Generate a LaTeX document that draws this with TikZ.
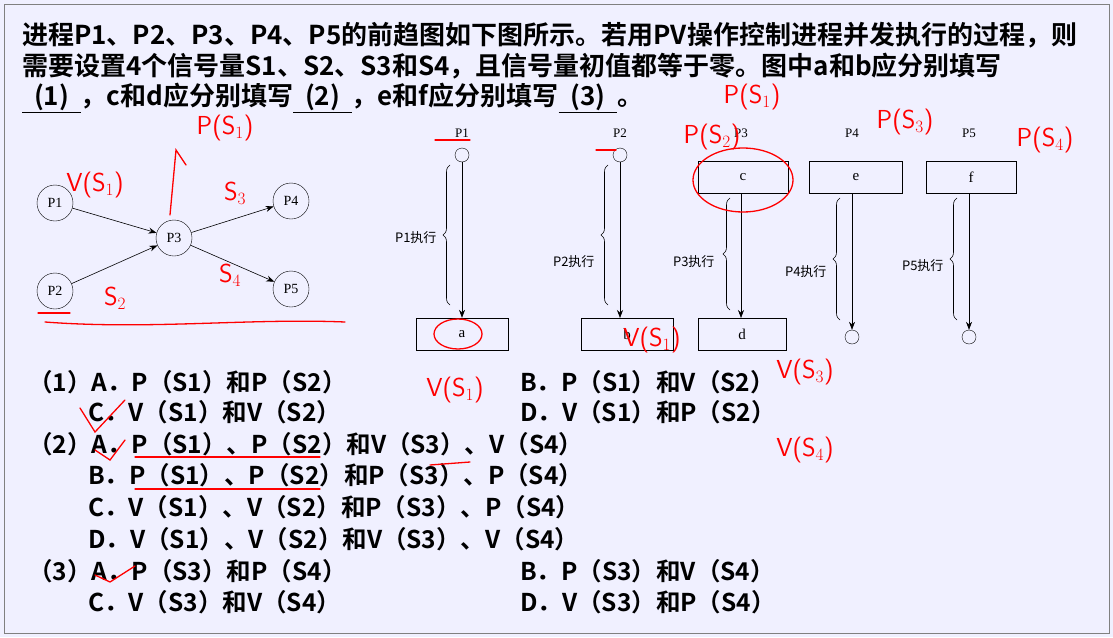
\documentclass[tikz,border=0pt]{standalone}
\usepackage{fontspec}
\setmainfont{Liberation Serif}
\newfontfamily\cjk{Noto Sans CJK SC}
\newfontfamily\cjkb{Noto Sans CJK SC Bold}
\usetikzlibrary{arrows.meta,decorations.pathreplacing}
\begin{document}
\begin{tikzpicture}[x=1pt,y=-1pt,
  proc/.style={draw,circle,minimum size=36pt,inner sep=0pt,font=\fontsize{14}{14}\selectfont},
  arr/.style={-{Stealth[length=8pt,width=6pt]},line width=0.6pt},
  bx/.style={draw,minimum width=92pt,minimum height=32pt,inner sep=0pt,font=\fontsize{15}{15}\selectfont},
  sc/.style={draw,circle,minimum size=14pt,inner sep=0pt},
  lab/.style={font=\fontsize{13}{13}\selectfont},
  exl/.style={font=\cjk\fontsize{13}{13}\selectfont},
  br/.style={decorate,decoration={brace,amplitude=7pt},line width=0.6pt},
  tx/.style={anchor=west,font=\cjkb\fontsize{24.5}{24.5}\selectfont,inner sep=0pt},
  tt/.style={anchor=west,font=\cjkb\fontsize{26}{26}\selectfont,inner sep=0pt},
  hw/.style={red,font=\sffamily\fontsize{26}{26}\selectfont,inner sep=0pt},
  hl/.style={red,line width=1.3pt,line cap=round}]
\useasboundingbox (0,0) rectangle (1113,637);
\fill[blue!6] (0,0) rectangle (1113,637);
\draw[gray,line width=1pt] (4,4) rectangle (1109,633);
% title
\node[tt] (t1) at (22,35) {进程P1、P2、P3、P4、P5的前趋图如下图所示。若用PV操作控制进程并发执行的过程，则};
\node[tt] (t2) at (22,66) {需要设置4个信号量S1、S2、S3和S4，且信号量初值都等于零。图中a和b应分别填写};
\node[tt] (t3) at (22,98) {\underline{\ \ (1)\ \ }，c和d应分别填写\underline{\ \ (2)\ \ }，e和f应分别填写\underline{\ \ (3)\ \ }。};
% graph
\node[proc] (p1) at (55,203) {P1};
\node[proc] (p2) at (55,291) {P2};
\node[proc] (p3) at (174,238) {P3};
\node[proc] (p4) at (291,201) {P4};
\node[proc] (p5) at (291,289) {P5};
\draw[arr] (p1) -- (p3);
\draw[arr] (p2) -- (p3);
\draw[arr] (p3) -- (p4);
\draw[arr] (p3) -- (p5);
% right diagram
\node[lab] (l1) at (462,133) {P1};
\node[sc] (c1) at (462,155) {};
\node[bx] (ba) at (462,334) {a};
\draw[arr] (c1) -- (ba);
\draw[br] (450,305) -- (450,165);
\node[exl,anchor=east] (e1) at (440,238) {P1执行};
\node[lab] (l2) at (620,133) {P2};
\node[sc] (c2) at (620,155) {};
\node[bx] (bb) at (627,334) {b};
\draw[arr] (c2) -- (620,318);
\draw[br] (608,305) -- (608,165);
\node[exl,anchor=east] (e2) at (598,262) {P2执行};
\node[lab] (l3) at (741,133) {P3};
\node[bx,minimum width=90pt] (bc) at (743,177) {c};
\node[bx,minimum width=88pt] (bd) at (742,334) {d};
\draw[arr] (741,193) -- (741,318);
\draw[br] (730,310) -- (730,198);
\node[exl,anchor=east] (e3) at (718,262) {P3执行};
\node[lab] (l4) at (852,133) {P4};
\node[bx,minimum width=93pt] (be) at (856,177) {e};
\node[sc] (c4) at (852,337) {};
\draw[arr] (852,193) -- (c4);
\draw[br] (840,320) -- (840,198);
\node[exl,anchor=east] (e4) at (830,272) {P4执行};
\node[lab] (l5) at (969,133) {P5};
\node[bx,minimum width=90pt] (bf) at (971,177) {f};
\node[sc] (c5) at (969,337) {};
\draw[arr] (969,193) -- (c5);
\draw[br] (957,320) -- (957,198);
\node[exl,anchor=east] (e5) at (947,266) {P5执行};
% options
\node[tx] (o1) at (28,382) {（1）A．P（S1）和P（S2）};
\node[tx] (o1b) at (520,382) {B．P（S1）和V（S2）};
\node[tx] (o1c) at (88,412) {C．V（S1）和V（S2）};
\node[tx] (o1d) at (520,412) {D．V（S1）和P（S2）};
\node[tx] (o2) at (28,444) {（2）A．P（S1）、P（S2）和V（S3）、V（S4）};
\node[tx] (o2b) at (88,475) {B．P（S1）、P（S2）和P（S3）、P（S4）};
\node[tx] (o2c) at (88,507) {C．V（S1）、V（S2）和P（S3）、P（S4）};
\node[tx] (o2d) at (88,539) {D．V（S1）、V（S2）和V（S3）、V（S4）};
\node[tx] (o3) at (28,571) {（3）A．P（S3）和P（S4）};
\node[tx] (o3b) at (520,571) {B．P（S3）和V（S4）};
\node[tx] (o3c) at (88,602) {C．V（S3）和V（S4）};
\node[tx] (o3d) at (520,602) {D．V（S3）和P（S4）};
% handwriting
\node[hw] (h1) at (225,128) {P(S$_1$)};
\draw[hl] (170,215) -- (176,150) -- (186,165);
\node[hw] (h2) at (95,185) {V(S$_1$)};
\node[hw] (h3) at (235,193) {S$_3$};
\node[hw] (h4) at (230,275) {S$_4$};
\node[hw] (h5) at (115,298) {S$_2$};
\draw[hl] (45,322) .. controls (150,330) and (250,318) .. (345,322);
\draw[hl] (38,313) -- (70,313);
\draw[hl] (435,140) -- (470,140);
\draw[hl] (596,150) -- (616,150);
\node[hw] (h6) at (752,97) {P(S$_1$)};
\node[hw] (h7) at (712,137) {P(S$_2$)};
\node[hw] (h8) at (905,122) {P(S$_3$)};
\node[hw] (h9) at (1045,140) {P(S$_4$)};
\node[hw] (h10) at (652,340) {V(S$_1$)};
\node[hw] (h11) at (455,390) {V(S$_1$)};
\node[hw] (h12) at (805,372) {V(S$_3$)};
\node[hw] (h13) at (805,450) {V(S$_4$)};
\draw[hl] (743,180) ellipse (50pt and 32pt);
\draw[hl] (458,334) ellipse (24pt and 15pt);
\draw[hl] (80,408) -- (95,432) -- (125,400);
\draw[hl] (95,450) -- (110,460) -- (125,440);
\draw[hl] (95,575) -- (110,582) -- (135,566);
\draw[hl] (135,457) -- (320,457);
\draw[hl] (135,489) -- (320,489);
\draw[hl] (430,465) -- (470,462);
\end{tikzpicture}
\end{document}
